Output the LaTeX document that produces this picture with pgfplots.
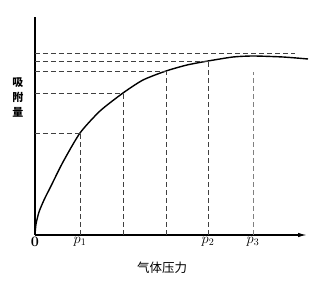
\documentclass[border=0pt]{standalone}
\usepackage{pgfplots}
\pgfplotsset{compat=1.18}
\usepackage{fontspec}
\newfontfamily\cjk{Noto Sans CJK SC}
\usetikzlibrary{arrows.meta}
\begin{document}
\begin{tikzpicture}
\begin{axis}[
  x=1pt, y=1pt,
  xmin=0, xmax=272, ymin=0, ymax=218,
  axis lines=left,
  axis line style={line width=1.3pt, -},
  x axis line style={-{Latex[length=9pt,width=4.5pt]}},
  xtick={0,45,173,218},
  xticklabels={\textbf{0},$p_1$,$p_2$,$p_3$},
  ytick=\empty,
  major tick length=0pt,
  tick label style={font=\Large},
  xticklabel style={yshift=1pt},
  clip=false,
]
\addplot[black, line width=1.4pt, smooth, tension=0.4] coordinates {
  (0,0) (1,11) (4,23) (9,35) (16,49) (28,73) (45,102) (65,124) (88,142) (108,155)
  (131,164) (152,170) (173,174) (198,178) (218,179) (248,178) (273,176)
};
\pgfplotsset{dl/.style={black!75, line width=0.7pt, dash pattern=on 5pt off 3pt}}
% horizontal dashed lines
\addplot[dl] coordinates {(0,102) (45,102)};
\addplot[dl] coordinates {(0,142) (88,142)};
\addplot[dl] coordinates {(0,164) (131,164)};
\addplot[dl] coordinates {(0,174) (173,174)};
\addplot[dl, line width=0.9pt] coordinates {(0,182) (260,182)};
% vertical dashed lines
\addplot[dl] coordinates {(45,0) (45,102)};
\addplot[dl] coordinates {(88,0) (88,142)};
\addplot[dl] coordinates {(131,0) (131,164)};
\addplot[dl] coordinates {(173,0) (173,174)};
\addplot[dl, black!50, line width=0.5pt] coordinates {(218,0) (218,163)};
\node[align=center, font=\cjk\bfseries\fontsize{11}{13}\selectfont, inner sep=0pt] at (axis cs:-17,137) {吸\\[2pt]附\\[2pt]量};
\node[font=\cjk\fontsize{12.5}{14}\selectfont, inner sep=0pt] at (axis cs:127,-33) {气体压力};
\path (axis cs:-35,-53) rectangle (axis cs:288,235);
\end{axis}
\end{tikzpicture}
\end{document}
